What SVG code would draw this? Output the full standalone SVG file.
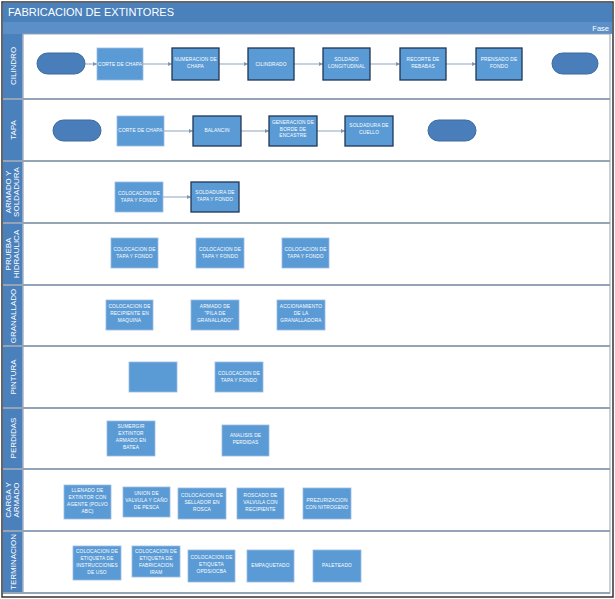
<svg xmlns="http://www.w3.org/2000/svg" width="615" height="599" viewBox="0 0 615 599">
<defs>
<marker id="a" viewBox="0 0 6 6" refX="6" refY="3" markerWidth="4" markerHeight="4" orient="auto"><path d="M0,0 L6,3 L0,6 z" fill="#7F96B2"/></marker>
<style>
.n{fill:#5B9BD5;stroke:#9DBCE0;stroke-width:0.8}
.nd{fill:#5B9BD5;stroke:#1F3656;stroke-width:1.3}
.t{fill:#4A7EBB;stroke:#3B6A9E;stroke-width:1}
.tx{font-family:"Liberation Sans",Arial,sans-serif;font-size:4.8px;fill:#fff;text-anchor:middle;letter-spacing:0.15px}
.ll{font-family:"Liberation Sans",Arial,sans-serif;font-size:8px;fill:#fff;text-anchor:middle}
.c{stroke:#8FA5C0;stroke-width:1;fill:none;marker-end:url(#a)}
.div{stroke:#95A3B6;stroke-width:2}
</style>
</defs>
<rect x="0" y="0" width="615" height="599" fill="#fff"/>
<g id="frame">
<rect x="2" y="2" width="611" height="595" fill="#fff" stroke="#333" stroke-width="1.5"/>
<rect x="3" y="3" width="609" height="19" fill="#4A80BC"/>
<text x="8" y="16" font-family="'Liberation Sans',Arial,sans-serif" font-size="11" fill="#fff">FABRICACION DE EXTINTORES</text>
<rect x="3" y="22" width="609" height="12" fill="#5A8FC8"/>
<text x="609" y="31" font-family="'Liberation Sans',Arial,sans-serif" font-size="7.5" fill="#fff" text-anchor="end">Fase</text>
<rect x="3" y="34" width="20" height="559" fill="#4A80BC"/>
<line x1="23" y1="34" x2="23" y2="593" stroke="#C5D4E6" stroke-width="1"/>
<rect x="23" y="34" width="587" height="559" fill="none" stroke="#95A3B6" stroke-width="1"/>
<line class="div" x1="3" y1="99" x2="610" y2="99"/>
<line class="div" x1="3" y1="161" x2="610" y2="161"/>
<line class="div" x1="3" y1="223" x2="610" y2="223"/>
<line class="div" x1="3" y1="285" x2="610" y2="285"/>
<line class="div" x1="3" y1="346" x2="610" y2="346"/>
<line class="div" x1="3" y1="408" x2="610" y2="408"/>
<line class="div" x1="3" y1="469" x2="610" y2="469"/>
<line class="div" x1="3" y1="531" x2="610" y2="531"/>
<line class="div" x1="3" y1="593" x2="610" y2="593"/>
</g>
<g id="lanes">
<text class="ll" transform="translate(15.5,66) rotate(-90)">CILINDRO</text>
<text class="ll" transform="translate(15.5,130) rotate(-90)">TAPA</text>
<text class="ll" transform="translate(11,192) rotate(-90)">ARMADO Y</text>
<text class="ll" transform="translate(19,192) rotate(-90)">SOLDADURA</text>
<text class="ll" transform="translate(11,254) rotate(-90)">PRUEBA</text>
<text class="ll" transform="translate(19,254) rotate(-90)">HIDRAULICA</text>
<text class="ll" transform="translate(15.5,316) rotate(-90)">GRANALLADO</text>
<text class="ll" transform="translate(15.5,377) rotate(-90)">PINTURA</text>
<text class="ll" transform="translate(15.5,438) rotate(-90)">PERDIDAS</text>
<text class="ll" transform="translate(11,500) rotate(-90)">CARGA Y</text>
<text class="ll" transform="translate(19,500) rotate(-90)">ARMADO</text>
<text class="ll" transform="translate(15.5,562) rotate(-90)">TERMINACION</text>
</g>
<g id="connectors">
<line class="c" x1="85" y1="64" x2="97" y2="64"/>
<line class="c" x1="143" y1="64" x2="172" y2="64"/>
<line class="c" x1="219" y1="64" x2="248" y2="64"/>
<line class="c" x1="294" y1="64" x2="323" y2="64"/>
<line class="c" x1="370" y1="64" x2="400" y2="64"/>
<line class="c" x1="446" y1="64" x2="476" y2="64"/>
<line class="c" x1="164" y1="131" x2="193" y2="131"/>
<line class="c" x1="241" y1="131" x2="269" y2="131"/>
<line class="c" x1="317" y1="131" x2="345" y2="131"/>
<line class="c" x1="163" y1="197" x2="191" y2="197"/>
</g>
<g id="c-start"><rect class="t" x="37" y="53" width="48" height="21" rx="10.5"/></g>
<g id="c-corte"><rect class="n" x="97" y="48" width="46" height="32"/><text class="tx" x="120" y="66">CORTE DE CHAPA</text></g>
<g id="c-numeracion"><rect class="nd" x="172" y="48" width="47" height="32"/><text class="tx" x="195.5" y="61">NUMERACION DE<tspan x="195.5" dy="7">CHAPA</tspan></text></g>
<g id="c-cilindrado"><rect class="nd" x="248" y="48" width="46" height="32"/><text class="tx" x="271" y="66">CILINDRADO</text></g>
<g id="c-soldado"><rect class="nd" x="323" y="48" width="47" height="32"/><text class="tx" x="346.5" y="61">SOLDADO<tspan x="346.5" dy="7">LONGITUDINAL</tspan></text></g>
<g id="c-recorte"><rect class="nd" x="400" y="48" width="46" height="32"/><text class="tx" x="423" y="61">RECORTE DE<tspan x="423" dy="7">REBABAS</tspan></text></g>
<g id="c-prensado"><rect class="nd" x="476" y="48" width="46" height="32"/><text class="tx" x="499" y="61">PRENSADO DE<tspan x="499" dy="7">FONDO</tspan></text></g>
<g id="c-end"><rect class="t" x="552" y="53" width="46" height="21" rx="10.5"/></g>
<g id="t-start"><rect class="t" x="53" y="120" width="48" height="21" rx="10.5"/></g>
<g id="t-corte"><rect class="n" x="117" y="116" width="47" height="30"/><text class="tx" x="140.5" y="132">CORTE DE CHAPA</text></g>
<g id="t-balancin"><rect class="nd" x="193" y="116" width="48" height="30"/><text class="tx" x="217" y="132">BALANCIN</text></g>
<g id="t-generacion"><rect class="nd" x="269" y="116" width="48" height="30"/><text class="tx" x="293" y="124">GENERACION DE<tspan x="293" dy="6.5">BORDE DE</tspan><tspan x="293" dy="6.5">ENCASTRE</tspan></text></g>
<g id="t-soldadura"><rect class="nd" x="345" y="116" width="48" height="30"/><text class="tx" x="369" y="127">SOLDADURA DE<tspan x="369" dy="7">CUELLO</tspan></text></g>
<g id="t-end"><rect class="t" x="428" y="120" width="48" height="21" rx="10.5"/></g>
<g id="a-colocacion"><rect class="n" x="115" y="182" width="48" height="30"/><text class="tx" x="139" y="195">COLOCACION DE<tspan x="139" dy="7">TAPA Y FONDO</tspan></text></g>
<g id="a-soldadura"><rect class="nd" x="191" y="182" width="48" height="30"/><text class="tx" x="215" y="194">SOLDADURA DE<tspan x="215" dy="7">TAPA Y FONDO</tspan></text></g>
<g id="p-1"><rect class="n" x="111" y="238" width="47" height="30"/><text class="tx" x="134.5" y="251">COLOCACION DE<tspan x="134.5" dy="7">TAPA Y FONDO</tspan></text></g>
<g id="p-2"><rect class="n" x="196" y="238" width="48" height="30"/><text class="tx" x="220" y="251">COLOCACION DE<tspan x="220" dy="7">TAPA Y FONDO</tspan></text></g>
<g id="p-3"><rect class="n" x="282" y="238" width="47" height="30"/><text class="tx" x="305.5" y="251">COLOCACION DE<tspan x="305.5" dy="7">TAPA Y FONDO</tspan></text></g>
<g id="g-1"><rect class="n" x="106" y="300" width="47" height="30"/><text class="tx" x="129.5" y="308">COLOCACION DE<tspan x="129.5" dy="7">RECIPIENTE EN</tspan><tspan x="129.5" dy="7">MAQUINA</tspan></text></g>
<g id="g-2"><rect class="n" x="191" y="300" width="48" height="30"/><text class="tx" x="215" y="308">ARMADO DE<tspan x="215" dy="7">"PILA DE</tspan><tspan x="215" dy="7">GRANALLADO"</tspan></text></g>
<g id="g-3"><rect class="n" x="277" y="300" width="48" height="30"/><text class="tx" x="301" y="308">ACCIONAMIENTO<tspan x="301" dy="7">DE LA</tspan><tspan x="301" dy="7">GRANALLADORA</tspan></text></g>
<g id="pi-1"><rect class="n" x="129" y="362" width="48" height="30"/></g>
<g id="pi-2"><rect class="n" x="215" y="362" width="48" height="30"/><text class="tx" x="239" y="375">COLOCACION DE<tspan x="239" dy="7">TAPA Y FONDO</tspan></text></g>
<g id="pe-1"><rect class="n" x="107" y="421" width="48" height="35"/><text class="tx" x="131" y="428">SUMERGIR<tspan x="131" dy="7">EXTINTOR</tspan><tspan x="131" dy="7">ARMADO EN</tspan><tspan x="131" dy="7">BATEA</tspan></text></g>
<g id="pe-2"><rect class="n" x="222" y="425" width="47" height="31"/><text class="tx" x="245.5" y="437">ANALISIS DE<tspan x="245.5" dy="7">PERDIDAS</tspan></text></g>
<g id="ca-1"><rect class="n" x="64" y="485" width="47" height="34"/><text class="tx" x="87.5" y="492">LLENADO DE<tspan x="87.5" dy="7">EXTINTOR CON</tspan><tspan x="87.5" dy="7">AGENTE (POLVO</tspan><tspan x="87.5" dy="7">ABC)</tspan></text></g>
<g id="ca-2"><rect class="n" x="123" y="487" width="47" height="30"/><text class="tx" x="146.5" y="495">UNION DE<tspan x="146.5" dy="7">VALVULA Y CAÑO</tspan><tspan x="146.5" dy="7">DE PESCA</tspan></text></g>
<g id="ca-3"><rect class="n" x="178" y="488" width="48" height="31"/><text class="tx" x="202" y="497">COLOCACION DE<tspan x="202" dy="7">SELLADOR EN</tspan><tspan x="202" dy="7">ROSCA</tspan></text></g>
<g id="ca-4"><rect class="n" x="237" y="488" width="47" height="31"/><text class="tx" x="260.5" y="497">ROSCADO DE<tspan x="260.5" dy="7">VALVULA CON</tspan><tspan x="260.5" dy="7">RECIPIENTE</tspan></text></g>
<g id="ca-5"><rect class="n" x="303" y="488" width="48" height="31"/><text class="tx" x="327" y="502">PREZURIZACION<tspan x="327" dy="7">CON NITROGENO</tspan></text></g>
<g id="te-1"><rect class="n" x="73" y="546" width="48" height="34"/><text class="tx" x="97" y="553">COLOCACION DE<tspan x="97" dy="7">ETIQUETA DE</tspan><tspan x="97" dy="7">INSTRUCCIONES</tspan><tspan x="97" dy="7">DE USO</tspan></text></g>
<g id="te-2"><rect class="n" x="132" y="546" width="48" height="31"/><text class="tx" x="156" y="553">COLOCACION DE<tspan x="156" dy="7">ETIQUETA DE</tspan><tspan x="156" dy="7">FABRICACION</tspan><tspan x="156" dy="7">IRAM</tspan></text></g>
<g id="te-3"><rect class="n" x="188" y="550" width="47" height="32"/><text class="tx" x="211.5" y="559">COLOCACION DE<tspan x="211.5" dy="7">ETIQUETA</tspan><tspan x="211.5" dy="7">OPDS/OCBA</tspan></text></g>
<g id="te-4"><rect class="n" x="247" y="550" width="47" height="32"/><text class="tx" x="270.5" y="567">EMPAQUETADO</text></g>
<g id="te-5"><rect class="n" x="313" y="550" width="48" height="32"/><text class="tx" x="337" y="567">PALETEADO</text></g>
</svg>
